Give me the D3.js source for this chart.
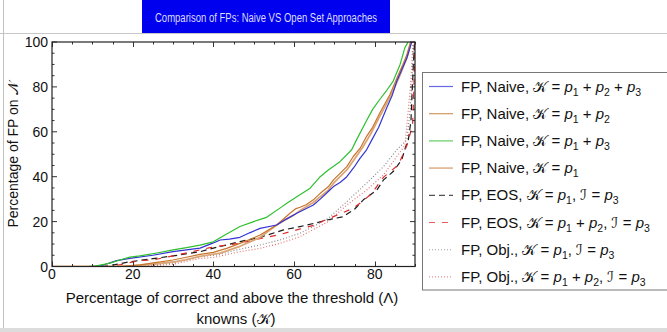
<!DOCTYPE html>
<html lang="en">

<head>
  <meta charset="UTF-8">
  <script src="https://d3js.org/d3.v7.min.js"></script>
  <style>
    body { margin: 0; background: white; }
    text { font-family: "Liberation Sans", Arial, sans-serif; }
    .scr { font-family: "DejaVu Sans", serif; }
  </style>
</head>

<body>
  <svg id="chart-svg" height="332" width="667"></svg>

  <script>
    // series values: [x, y]
    const naiveAll = [[0,0],[10,0],[12,0.3],[13.5,1.1],[16,2.6],[19.3,3.6],[25,5],[30,6.6],[36.7,8.2],[40,10.5],[41.7,11.8],[44,12.2],[46.6,13],[49,15],[51.6,17],[55.7,18.5],[58,21],[60.7,23.7],[64.8,27.4],[66.5,30],[68.5,33.4],[69.8,35.6],[71.5,37.5],[73.1,40],[74.8,44],[76.4,48.3],[78,52],[79.3,56.4],[81,62],[83,70.7],[84.3,76],[85.5,82.6],[86.8,88],[88,93],[89.2,100]];
    const naiveP1P2 = [[0,0],[15,0],[18,0.2],[21.8,0.7],[26,1.8],[30,2.9],[33,4],[36.7,5.4],[40,6.3],[43.3,8.1],[46.6,10.3],[49,12],[51.6,14],[55.7,18.5],[59,23.7],[60.5,25.8],[61.5,26.4],[63,27.5],[64.8,29.7],[66.5,32.6],[68.5,35.5],[69.8,38.6],[73.1,44.5],[74.7,49],[76.4,52.7],[78,58],[79.5,62],[81.3,68.5],[83.8,76.6],[85.9,85.5],[87,90],[88,94.5],[88.9,100]];
    const naiveP1P3 = [[0,0],[9,0],[11,0.3],[14.4,1.5],[17,3],[19.3,4.2],[21.8,4.7],[26,6],[30,7.4],[33,8.3],[36.7,9.5],[40,11],[43.3,14.5],[46.6,17.8],[50,20],[53.2,21.9],[56.5,26],[58.5,28.5],[60.7,31.1],[64,34.9],[66.5,40],[68.5,43],[71.4,46.7],[74.3,52],[75.5,56.4],[78,65],[79.5,70],[81.3,74.5],[83,78.5],[84.6,82.6],[86.3,90],[87.5,97.5],[88.3,100]];
    const naiveP1 = [[0,0],[16,0],[20,0.3],[25,1],[30,2],[33,3],[36.7,4.5],[41.7,6],[46.6,9],[51.6,13],[55.7,18.5],[58,21],[60,23],[62,25.5],[64.8,28.5],[68.5,34],[70,37.5],[73.1,43],[77,53],[79,59],[81,66],[84,76],[86,84],[88,93],[89,100]];
    const eosP1 = [[0,0],[12,0],[15,0.6],[19.3,2.1],[25,3.5],[30,4.7],[36.7,6.6],[40,8.2],[43.3,9.6],[46.6,11.1],[51.6,13],[57.4,16.3],[61.5,17.8],[65.2,19.3],[68.1,20.7],[72.2,22.2],[75,25.5],[77.2,29.7],[80.5,34],[82.2,38.6],[84.6,42.3],[86.7,47.5],[87.7,53.4],[88.3,55.7],[89,65],[89.3,78],[89.6,90],[89.9,100]];
    const eosP1P2 = [[0,0],[14,0],[17,0.8],[21.5,2.6],[25,2.9],[31.7,5.4],[39.2,8.4],[43.3,9.6],[46.6,10.3],[50,11.8],[54,13.3],[57,14.5],[60.7,16.3],[65.2,18.5],[67.5,20.5],[69.8,22.2],[74.7,26],[77,29],[79.3,32.6],[82.2,39.8],[85.9,45.3],[88,54],[89.4,63],[89.7,78],[90,100]];
    const objP1 = [[0,0],[20,0],[25,0.6],[30,1.5],[36.7,4.4],[40.8,5.1],[46.6,7.7],[51.6,9.6],[56.5,11.8],[61.5,14.8],[65,18],[68.5,21.5],[73.1,28.9],[78,37.1],[82.2,44.5],[85.5,52],[88,56.4],[88.8,69.8],[89.2,80],[89.5,93.6],[89.7,100]];
    const objP1P2 = [[0,0],[20,0],[25,0.3],[30,1],[36.7,3.6],[40,4],[46.6,6.6],[51.6,8.1],[56.5,10.3],[61.5,13.3],[68.5,20],[73.1,27.4],[78,34],[82.2,40.8],[85.5,49],[87.5,54],[88.8,78.7],[89.2,90.8],[89.5,100]];

    const legendLabels = [
      "FP, Naive, 𝒦 = p_1 + p_2 + p_3",
      "FP, Naive, 𝒦 = p_1 + p_2",
      "FP, Naive, 𝒦 = p_1 + p_3",
      "FP, Naive, 𝒦 = p_1",
      "FP, EOS, 𝒦 = p_1, ℐ = p_3",
      "FP, EOS, 𝒦 = p_1 + p_2, ℐ = p_3",
      "FP, Obj., 𝒦 = p_1, ℐ = p_3",
      "FP, Obj., 𝒦 = p_1 + p_2, ℐ = p_3"
    ];
    const xTicks = [0, 20, 40, 60, 80];
    const yTicks = [0, 20, 40, 60, 80, 100];
    const titleText = "Comparison of FPs: Naive VS Open Set Approaches";

    const seriesData = [naiveAll, naiveP1P2, naiveP1P3, naiveP1, eosP1, eosP1P2, objP1, objP1P2];
    const styles = [
      { color: "#3434d6", w: 1.2, dash: null },
      { color: "#c7742c", w: 1.2, dash: null },
      { color: "#2fbf2f", w: 1.2, dash: null },
      { color: "#dba677", w: 1.8, dash: null },
      { color: "#1a1a1a", w: 1.2, dash: "6,4" },
      { color: "#dd2a2a", w: 1.2, dash: "6,7" },
      { color: "#808080", w: 1.1, dash: "1,2" },
      { color: "#e36b6b", w: 1.1, dash: "1,2" }
    ];

    const svg = d3.select("#chart-svg");
    const width = +svg.attr("width");
    const plot = { left: 52, right: 415, top: 42, bottom: 266.5 };

    // outer frame
    svg.append("line").attr("x1", 0).attr("x2", width).attr("y1", 33.5).attr("y2", 33.5)
      .attr("stroke", "#c8c8c8");
    svg.append("line").attr("x1", 3.5).attr("x2", 3.5).attr("y1", 0).attr("y2", 329)
      .attr("stroke", "#c0c0c0");
    svg.append("rect").attr("x", 0).attr("y", 328).attr("width", width).attr("height", 4)
      .attr("fill", "#dcdcdc");

    // title
    svg.append("rect").attr("x", 142).attr("y", 0).attr("width", 248).attr("height", 33)
      .attr("fill", "#0000ee");
    svg.append("text").attr("x", 266).attr("y", 21.5).attr("text-anchor", "middle")
      .attr("font-size", 12.5).attr("fill", "#dcdcff")
      .attr("textLength", 222).attr("lengthAdjust", "spacingAndGlyphs")
      .text(titleText);

    const x = d3.scaleLinear().domain([0, 90]).range([plot.left, plot.right]);
    const y = d3.scaleLinear().domain([0, 100]).range([plot.bottom, plot.top]);

    const g = svg.append("g");

    // curves
    svg.append("clipPath").attr("id", "clip").append("rect")
      .attr("x", plot.left).attr("y", plot.top)
      .attr("width", plot.right - plot.left).attr("height", plot.bottom - plot.top);
    const line = d3.line().x(d => x(d[0])).y(d => y(d[1]));
    const drawOrder = [6, 7, 4, 5, 3, 1, 0, 2];
    g.append("g").attr("clip-path", "url(#clip)")
      .selectAll("path").data(drawOrder)
      .join("path")
      .attr("d", i => line(seriesData[i]))
      .attr("fill", "none")
      .attr("stroke", i => styles[i].color)
      .attr("stroke-width", i => styles[i].w)
      .attr("stroke-dasharray", i => styles[i].dash)
      .attr("stroke-linejoin", "round");

    // frame with ticks (inward, mirrored on top and right)
    const xMinor = d3.range(0, 91, 5).filter(v => !xTicks.includes(v));
    const yMinor = d3.range(0, 101, 5).filter(v => !yTicks.includes(v));
    const tickG = g.append("g").attr("stroke", "#333").attr("stroke-width", 1);
    [[xTicks, 5], [xMinor, 2.5]].forEach(([vals, len]) => {
      tickG.selectAll(null).data(vals).join("line")
        .attr("x1", d => Math.round(x(d)) + 0.5).attr("x2", d => Math.round(x(d)) + 0.5)
        .attr("y1", plot.bottom).attr("y2", plot.bottom - len);
      tickG.selectAll(null).data(vals).join("line")
        .attr("x1", d => Math.round(x(d)) + 0.5).attr("x2", d => Math.round(x(d)) + 0.5)
        .attr("y1", plot.top).attr("y2", plot.top + len);
    });
    [[yTicks, 5], [yMinor, 2.5]].forEach(([vals, len]) => {
      tickG.selectAll(null).data(vals).join("line")
        .attr("y1", d => y(d)).attr("y2", d => y(d))
        .attr("x1", plot.left).attr("x2", plot.left + len);
      tickG.selectAll(null).data(vals).join("line")
        .attr("y1", d => y(d)).attr("y2", d => y(d))
        .attr("x1", plot.right).attr("x2", plot.right - len);
    });
    g.append("rect").attr("x", plot.left).attr("y", plot.top)
      .attr("width", plot.right - plot.left).attr("height", plot.bottom - plot.top)
      .attr("fill", "none").attr("stroke", "#222").attr("stroke-width", 1.2);

    // tick labels
    g.selectAll("text.xl").data(xTicks).join("text").attr("class", "xl")
      .attr("x", d => x(d)).attr("y", 279).attr("text-anchor", "middle")
      .attr("font-size", 14).attr("fill", "#111").text(d => d);
    g.selectAll("text.yl").data(yTicks).join("text").attr("class", "yl")
      .attr("x", 48).attr("y", d => y(d) + 5).attr("text-anchor", "end")
      .attr("font-size", 14).attr("fill", "#111").text(d => d);

    // axis titles
    const yTitle = svg.append("text")
      .attr("transform", "translate(18,155) rotate(-90)")
      .attr("text-anchor", "middle").attr("font-size", 14).attr("fill", "#111");
    yTitle.append("tspan").text("Percentage of FP on ");
    yTitle.append("tspan").attr("class", "scr").text("𝒩");
    svg.append("text").attr("x", 232).attr("y", 303).attr("text-anchor", "middle")
      .attr("font-size", 15).attr("fill", "#111")
      .text("Percentage of correct and above the threshold (Λ)");
    const xTitle2 = svg.append("text").attr("x", 236).attr("y", 324).attr("text-anchor", "middle")
      .attr("font-size", 15).attr("fill", "#111");
    xTitle2.append("tspan").text("knowns (");
    xTitle2.append("tspan").attr("class", "scr").text("𝒦");
    xTitle2.append("tspan").text(")");

    // legend
    const legend = svg.append("g");
    legend.append("rect").attr("x", 422.5).attr("y", 72.5).attr("width", 260).attr("height", 217.5)
      .attr("fill", "white").attr("stroke", "#777");
    legendLabels.forEach((lab, i) => {
      const ly = 86.5 + i * 27.2;
      legend.append("line").attr("x1", 429).attr("x2", 453).attr("y1", ly).attr("y2", ly)
        .attr("stroke", styles[i].color).attr("stroke-width", styles[i].w)
        .attr("stroke-dasharray", styles[i].dash).attr("opacity", 0.75);
      const t = legend.append("text").attr("x", 461).attr("y", ly + 5)
        .attr("font-size", 15).attr("fill", "#111")
        .attr("xml:space", "preserve");
      // split labels into plain text, italic p with subscript, script letters
      let pendingDy = 0;
      lab.split(/(p_\d|𝒦|ℐ)/).filter(s => s.length).forEach(part => {
        if (part.startsWith("p_")) {
          t.append("tspan").attr("font-style", "italic").attr("dy", pendingDy || null).text("p");
          t.append("tspan").attr("font-size", 10.5).attr("dy", 4).text(part.slice(2));
          pendingDy = -4;
        } else {
          const s = t.append("tspan").attr("dy", pendingDy || null).text(part);
          if (part === "𝒦" || part === "ℐ") s.attr("class", "scr");
          pendingDy = 0;
        }
      });
    });
  </script>
</body>

</html>
